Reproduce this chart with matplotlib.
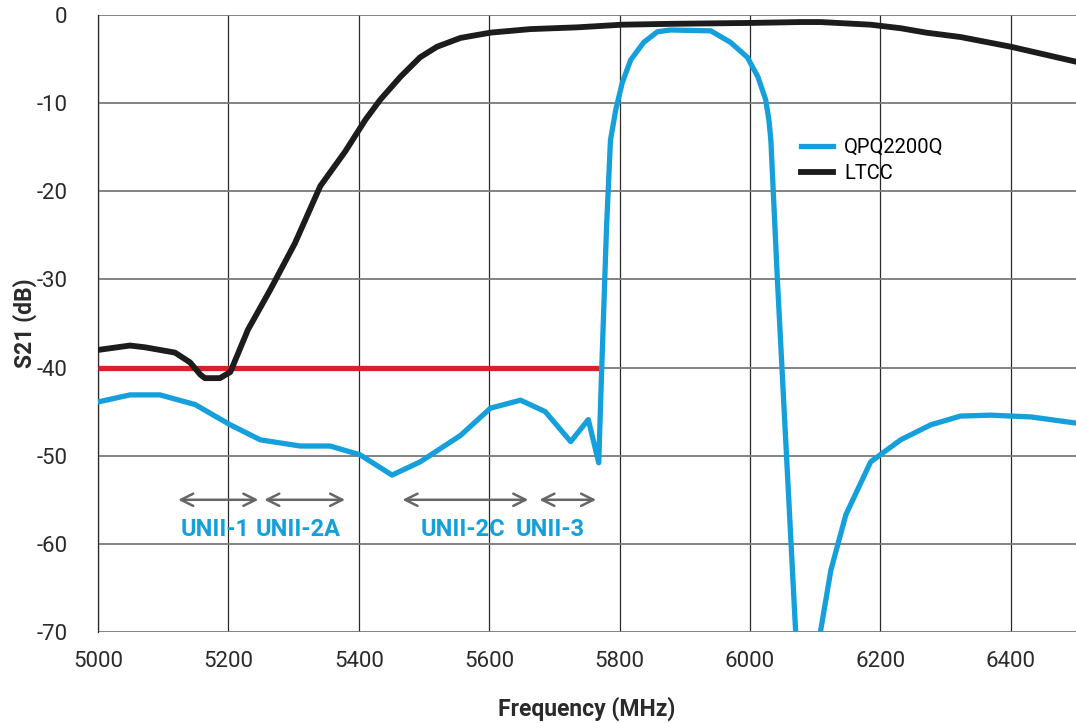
import matplotlib
matplotlib.use("Agg")
import matplotlib.pyplot as plt
import numpy as np

plt.rcParams['font.family'] = ['Roboto', 'DejaVu Sans']
plt.rcParams['axes.unicode_minus'] = False

# LTCC response (MHz, dB)
ltcc_f = [5000, 5049, 5072, 5118, 5141, 5157, 5164, 5187, 5203, 5230, 5264, 5302,
          5341, 5379, 5410, 5433, 5464, 5494, 5520, 5556, 5602, 5663, 5735, 5804, 5880,
          6001, 6078, 6108, 6185, 6231, 6270, 6323, 6400, 6500]
ltcc_db = [-38.0, -37.5, -37.7, -38.3, -39.4, -40.8, -41.2, -41.2, -40.5, -35.7, -31.2, -25.9,
           -19.4, -15.5, -11.9, -9.6, -7.0, -4.8, -3.6, -2.6, -2.0, -1.6, -1.4, -1.1, -1.0,
           -0.9, -0.8, -0.8, -1.1, -1.5, -2.0, -2.5, -3.6, -5.3]

# QPQ2200Q response (MHz, dB)
qpq_f = [5000, 5049, 5095, 5149, 5203, 5249, 5310, 5356, 5402, 5451, 5494, 5556,
         5602, 5648, 5686, 5725, 5752, 5768, 5772, 5780, 5786, 5794, 5804, 5817, 5837,
         5858, 5878, 5940, 5970, 5996, 6012, 6024, 6029, 6032, 6042, 6056, 6070, 6090, 6108,
         6124, 6147, 6185, 6231, 6277, 6323, 6369, 6431, 6500]
qpq_db = [-43.9, -43.1, -43.1, -44.2, -46.5, -48.2, -48.9, -48.9, -49.9, -52.2, -50.7, -47.7,
          -44.6, -43.7, -45.0, -48.4, -45.9, -50.8, -41.4, -24.0, -14.2, -10.8, -7.7, -5.1, -3.1,
          -1.9, -1.7, -1.8, -3.1, -4.8, -7.0, -9.6, -11.9, -14.2, -30.0, -50.0, -70.0, -85.0, -70.0,
          -63.0, -56.7, -50.7, -48.2, -46.5, -45.5, -45.4, -45.6, -46.3]

# rejection spec line
spec_f = [5000, 5768]
spec_db = [-40, -40]

# UNII bands
band_names = ['UNII-1', 'UNII-2A', 'UNII-2C', 'UNII-3']
band_start = [5123, 5255, 5467, 5677]
band_end = [5246, 5379, 5660, 5764]
band_label_x = [5180, 5307, 5560, 5694]

blue = '#16a0db'
black = '#1c1c1c'
red = '#dc1f2b'

fig = plt.figure(figsize=(10.76, 7.23), dpi=100)
ax = fig.add_axes([98 / 1076, 91 / 723, 978 / 1076, 617 / 723])

ax.plot(spec_f, spec_db, color=red, lw=3.8, solid_capstyle='butt', zorder=3)
ax.plot(qpq_f, qpq_db, color=blue, lw=3.8, label='QPQ2200Q', zorder=4,
        solid_joinstyle='round')
ax.plot(ltcc_f, ltcc_db, color=black, lw=4.2, label='LTCC', zorder=5,
        solid_joinstyle='round')

for name, s, e, lx in zip(band_names, band_start, band_end, band_label_x):
    ax.annotate('', xy=(s, -55), xytext=(e, -55),
                arrowprops=dict(arrowstyle='<->', color='#666666', lw=1.8,
                                mutation_scale=22, shrinkA=0, shrinkB=0))
    ax.text(lx, -58.4, name, color=blue, fontsize=17, fontweight='bold',
            ha='center', va='center')

ax.set_xlim(5000, 6500)
ax.set_ylim(-70, 0)
ax.set_xticks(np.arange(5000, 6500, 200))
ax.set_yticks(np.arange(-70, 1, 10))
ax.xaxis.grid(True, color='#2a2a2a', lw=0.9)
ax.yaxis.grid(True, color='#7a7a7a', lw=1.3)
ax.set_axisbelow(True)
for s in ['top', 'right', 'bottom']:
    ax.spines[s].set_visible(False)
ax.spines['left'].set_color('#2a2a2a')
ax.spines['left'].set_linewidth(0.9)
ax.tick_params(length=0, labelsize=16, colors='#2a2a2a', pad=14)
ax.tick_params(axis='y', pad=22)

ax.set_xlabel('Frequency (MHz)', fontsize=16.5, fontweight='bold', color='#2a2a2a')
ax.set_ylabel('S21 (dB)', fontsize=16.5, fontweight='bold', color='#2a2a2a')
ax.xaxis.set_label_coords(0.5, -0.105)
ax.yaxis.set_label_coords(-0.062, 0.5)

leg = ax.legend(loc='upper left', bbox_to_anchor=(0.70, 0.83), frameon=False,
                fontsize=14.5, handlelength=1.6, handletextpad=0.55, labelspacing=0.35)

fig.savefig('out.png', dpi=100)
